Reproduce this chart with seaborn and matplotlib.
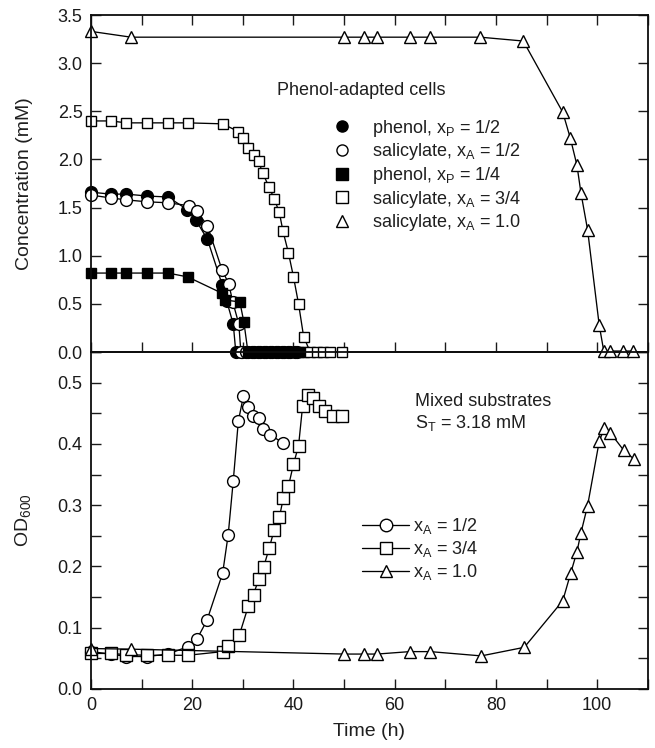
import matplotlib
matplotlib.use("Agg")
import matplotlib.pyplot as plt
from matplotlib.lines import Line2D
from matplotlib.ticker import MultipleLocator
import seaborn as sns

# ---------------- data ----------------
# Top panel: substrate concentration (mM) vs time (h)
phenol_half_x = [0, 3.9, 7.0, 11.1, 15.2, 19.0, 20.7, 23.0, 25.9, 26.8, 28.1,
                 28.6, 29.8, 31.0, 32.2, 33.4, 34.6, 35.8, 37.0, 38.2, 39.4, 40.6]
phenol_half_y = [1.66, 1.64, 1.64, 1.62, 1.61, 1.48, 1.37, 1.17, 0.70, 0.53, 0.29,
                 0, 0, 0, 0, 0, 0, 0, 0, 0, 0, 0]

salic_half_x = [0, 3.9, 7.0, 11.1, 15.2, 19.3, 21.0, 23.0, 25.9, 27.2, 28.0, 29.2,
                29.6, 30.6, 31.8, 33.0, 34.2, 35.4, 36.6, 37.8, 39.0, 40.2]
salic_half_y = [1.63, 1.60, 1.58, 1.56, 1.55, 1.52, 1.46, 1.31, 0.85, 0.71, 0.52, 0.29,
                0, 0, 0, 0, 0, 0, 0, 0, 0, 0]

phenol_quarter_x = [0, 3.9, 7.0, 11.1, 15.2, 19.1, 25.9, 26.5, 29.4, 30.2,
                    31.0, 32.0, 33.0, 34.0, 35.0, 36.0, 37.0, 38.0, 39.0, 40.0, 41.0, 42.0]
phenol_quarter_y = [0.82, 0.82, 0.82, 0.82, 0.82, 0.78, 0.61, 0.54, 0.52, 0.31,
                    0, 0, 0, 0, 0, 0, 0, 0, 0, 0, 0, 0]

salic_3q_x = [0, 3.9, 7.0, 11.1, 15.2, 19.1, 26.0, 29.1, 30.1, 31.1, 32.1, 33.1, 33.9,
              35.2, 36.2, 37.2, 37.9, 39.0, 40.0, 41.0, 42.0, 43.3, 44.6, 45.9, 47.2, 49.5]
salic_3q_y = [2.40, 2.40, 2.38, 2.38, 2.38, 2.38, 2.37, 2.29, 2.22, 2.12, 2.05, 1.98, 1.86,
              1.71, 1.59, 1.45, 1.26, 1.03, 0.78, 0.50, 0.16, 0, 0, 0, 0, 0]

salic_one_x = [0, 7.9, 50.0, 53.9, 56.5, 63.0, 67.0, 76.9, 85.4, 93.2, 94.7, 96.0,
               96.8, 98.1, 100.4, 101.3, 102.6, 105.1, 107.1]
salic_one_y = [3.33, 3.27, 3.27, 3.27, 3.27, 3.27, 3.27, 3.27, 3.23, 2.49, 2.22, 1.94,
               1.65, 1.27, 0.28, 0.01, 0.01, 0.01, 0.01]

# Bottom panel: OD600 vs time (h)
od_half_x = [0, 3.9, 7.0, 11.1, 15.2, 19.1, 20.9, 22.9, 26.0, 27.1, 28.1, 29.1, 30.1,
             31.1, 32.0, 33.1, 33.9, 35.4, 38.0]
od_half_y = [0.061, 0.057, 0.053, 0.053, 0.057, 0.069, 0.081, 0.112, 0.189, 0.252, 0.340,
             0.437, 0.478, 0.461, 0.446, 0.442, 0.424, 0.415, 0.401]

od_3q_x = [0, 3.9, 7.0, 11.1, 15.2, 19.1, 26.0, 27.1, 29.3, 31.1, 32.1, 33.1, 34.1, 35.2,
           36.2, 37.2, 38.0, 39.0, 40.0, 41.0, 41.8, 42.8, 43.9, 45.1, 46.2, 47.8, 49.5]
od_3q_y = [0.058, 0.058, 0.056, 0.055, 0.055, 0.055, 0.061, 0.070, 0.088, 0.136, 0.154,
           0.179, 0.199, 0.230, 0.260, 0.280, 0.312, 0.331, 0.367, 0.397, 0.462, 0.480,
           0.475, 0.462, 0.453, 0.446, 0.446]

od_one_x = [0, 7.9, 50.0, 53.9, 56.5, 63.0, 67.0, 77.1, 85.6, 93.2, 94.8, 96.0, 96.8,
            98.1, 100.4, 101.4, 102.6, 105.2, 107.3]
od_one_y = [0.066, 0.065, 0.057, 0.057, 0.057, 0.061, 0.061, 0.054, 0.068, 0.144, 0.190,
            0.224, 0.255, 0.299, 0.404, 0.426, 0.418, 0.390, 0.375]

top_labels = ["phenol, x$_\\mathregular{P}$ = 1/2",
              "salicylate, x$_\\mathregular{A}$ = 1/2",
              "phenol, x$_\\mathregular{P}$ = 1/4",
              "salicylate, x$_\\mathregular{A}$ = 3/4",
              "salicylate, x$_\\mathregular{A}$ = 1.0"]
bottom_labels = ["x$_\\mathregular{A}$ = 1/2",
                 "x$_\\mathregular{A}$ = 3/4",
                 "x$_\\mathregular{A}$ = 1.0"]

# ---------------- style ----------------
sns.set_theme(style="ticks")
plt.rcParams["font.family"] = ["Liberation Sans", "DejaVu Sans"]
plt.rcParams["mathtext.fontset"] = "custom"
plt.rcParams["mathtext.rm"] = "Liberation Sans"
plt.rcParams["mathtext.it"] = "Liberation Sans:italic"
plt.rcParams["text.color"] = "0.12"
plt.rcParams["axes.labelcolor"] = "0.12"
plt.rcParams["xtick.color"] = "0.1"
plt.rcParams["ytick.color"] = "0.1"
plt.rcParams["axes.edgecolor"] = "0.05"

INK = "black"
LW = 0.95
MEW = 1.0
MS = 8.5

fig = plt.figure(figsize=(6.55, 7.48), dpi=100)
ax_b = fig.add_axes([0.139, 0.0789, 0.850, 0.4505])
ax_t = fig.add_axes([0.139, 0.5294, 0.850, 0.4505])
ax_t.set_zorder(3)
ax_t.patch.set_alpha(0)


def draw(ax, x, y, marker, filled, ms=MS):
    sns.lineplot(x=x, y=y, ax=ax, estimator=None, sort=False, color=INK, lw=LW,
                 marker=marker, markersize=ms, markeredgewidth=MEW,
                 markerfacecolor=INK if filled else "white", markeredgecolor=INK,
                 clip_on=False, legend=False)


# top panel
draw(ax_t, phenol_half_x, phenol_half_y, "o", True)
draw(ax_t, salic_half_x, salic_half_y, "o", False)
draw(ax_t, phenol_quarter_x, phenol_quarter_y, "s", True, 7.8)
draw(ax_t, salic_3q_x, salic_3q_y, "s", False, 7.8)
draw(ax_t, salic_one_x, salic_one_y, "^", False, 8.8)

# bottom panel
draw(ax_b, od_half_x, od_half_y, "o", False)
draw(ax_b, od_3q_x, od_3q_y, "s", False, 8)
draw(ax_b, od_one_x, od_one_y, "^", False, 9)

# axes formatting
for ax in (ax_t, ax_b):
    ax.set_xlim(0, 110)
    for s in ax.spines.values():
        s.set_linewidth(1.3)
        s.set_visible(True)
    ax.xaxis.set_major_locator(MultipleLocator(20))
    ax.xaxis.set_minor_locator(MultipleLocator(10))
    ax.tick_params(which="both", direction="in", length=7, width=1.0,
                   right=True, labelsize=13, pad=6)

ax_t.set_ylim(0, 3.5)
ax_t.yaxis.set_major_locator(MultipleLocator(0.5))
ax_t.yaxis.set_major_formatter(matplotlib.ticker.FormatStrFormatter("%.1f"))
ax_t.tick_params(which="both", top=True, labelbottom=False)
ax_t.set_xlabel("")
ax_t.set_ylabel("Concentration (mM)", fontsize=14)
ax_t.yaxis.set_label_coords(-0.105, 0.5)

ax_b.set_ylim(0, 0.55)
ax_b.yaxis.set_major_locator(MultipleLocator(0.1))
ax_b.yaxis.set_minor_locator(MultipleLocator(0.05))
ax_b.yaxis.set_major_formatter(matplotlib.ticker.FormatStrFormatter("%.1f"))
ax_b.tick_params(which="both", top=False)
ax_b.set_xlabel("Time (h)", fontsize=14, labelpad=6)
ax_b.set_ylabel("OD$_\\mathregular{600}$", fontsize=14)
ax_b.yaxis.set_label_coords(-0.105, 0.5)

# annotations
ax_t.text(0.334, 0.777, "Phenol-adapted cells", transform=ax_t.transAxes,
          fontsize=13, ha="left", va="center")
ax_b.text(0.582, 0.852, "Mixed substrates", transform=ax_b.transAxes,
          fontsize=13, ha="left", va="center")
ax_b.text(0.582, 0.789, "S$_\\mathregular{T}$ = 3.18 mM", transform=ax_b.transAxes,
          fontsize=13, ha="left", va="center")

# legends
top_specs = [("o", True), ("o", False), ("s", True), ("s", False), ("^", False)]
top_handles = [Line2D([], [], ls="none", marker=m, markersize=8,
                      markerfacecolor=INK if f else "white", markeredgecolor=INK,
                      markeredgewidth=MEW) for m, f in top_specs]
ax_t.legend(top_handles, top_labels, loc="center left", bbox_to_anchor=(0.434, 0.524),
            frameon=False, fontsize=13, handlelength=1.0, handletextpad=1.2,
            labelspacing=0.15, borderpad=0, borderaxespad=0)

bot_handles = [Line2D([], [], color=INK, lw=LW, marker=m, markersize=9,
                      markerfacecolor="white", markeredgecolor=INK, markeredgewidth=MEW)
               for m in ("o", "s", "^")]
ax_b.legend(bot_handles, bottom_labels, loc="center left", bbox_to_anchor=(0.487, 0.415),
            frameon=False, fontsize=13, handlelength=2.6, handletextpad=0.2,
            labelspacing=0.18, borderpad=0, borderaxespad=0, numpoints=1)

fig.savefig("out.png", dpi=100)
